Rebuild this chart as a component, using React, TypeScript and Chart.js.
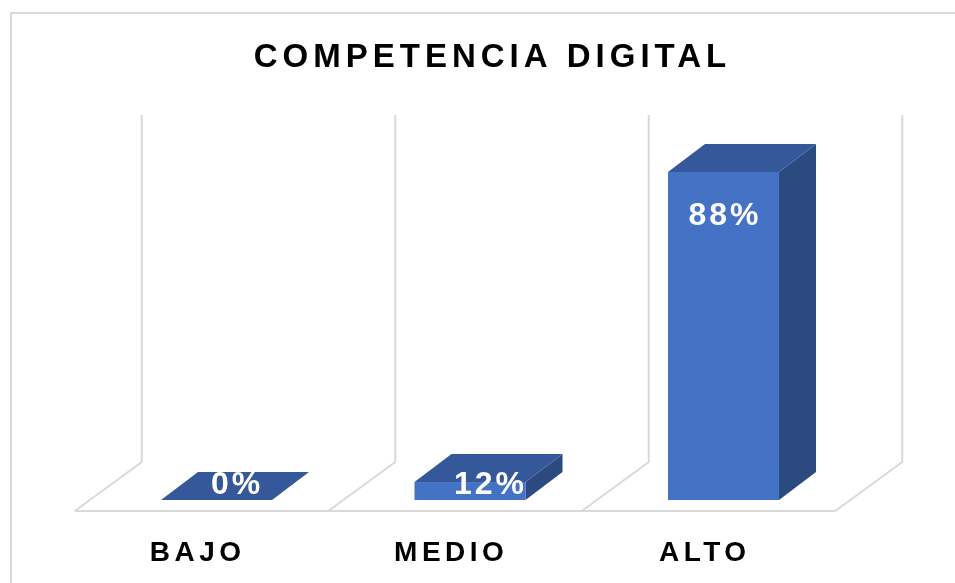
import React, { useEffect, useRef } from "react";
import { Chart, registerables } from "chart.js";

Chart.register(...registerables);

const chartTitle = "COMPETENCIA DIGITAL";
const categories = ["BAJO", "MEDIO", "ALTO"];
const values = [0, 12, 88];
const valueLabels = ["0%", "12%", "88%"];

const FONT = '"Liberation Sans", Arial, sans-serif';
const FRONT = "#4472C4";
const TOPC = "#34589A";
const SIDE = "#2B4A80";
const GRID = "#d9d9d9";

// 3D projection offsets (pixels)
const BAR_DX = 37;
const BAR_DY = -28;
const WALL_DX = 52;
const WALL_DY = -38;
const FLOOR_DX = -15;
const FLOOR_DY = 11;

function spacedText(ctx: CanvasRenderingContext2D, text: string, cx: number, y: number, spacing: number) {
  ctx.letterSpacing = spacing + "px";
  const w = ctx.measureText(text).width - spacing;
  ctx.textAlign = "left";
  ctx.fillText(text, cx - w / 2, y);
}

function barGeom(chart: any, bar: any) {
  const { x, y, base, width } = bar.getProps(["x", "y", "base", "width"], true);
  const b = Math.min(base, chart.chartArea.bottom);
  const top = Math.min(y, b);
  return { x, top, base: b, width };
}

const threeD = {
  id: "threeD",
  beforeDatasetsDraw(chart: any) {
    const { ctx, chartArea } = chart;
    const xs = chart.scales.x;
    const n = categories.length;
    const cw = (xs.right - xs.left) / n;
    ctx.save();
    // outer border
    ctx.strokeStyle = GRID;
    ctx.lineWidth = 2;
    ctx.beginPath();
    ctx.moveTo(11, chart.height + 5);
    ctx.lineTo(11, 13);
    ctx.lineTo(chart.width + 5, 13);
    ctx.stroke();
    // wall + floor
    ctx.lineWidth = 2;
    ctx.lineJoin = "miter";
    for (let i = 0; i <= n; i++) {
      const bx = xs.left + i * cw;
      ctx.beginPath();
      ctx.moveTo(bx + WALL_DX, chartArea.top + WALL_DY);
      ctx.lineTo(bx + WALL_DX, chartArea.bottom + WALL_DY);
      ctx.lineTo(bx + FLOOR_DX, chartArea.bottom + FLOOR_DY);
      ctx.stroke();
    }
    ctx.beginPath();
    ctx.moveTo(xs.left + FLOOR_DX, chartArea.bottom + FLOOR_DY);
    ctx.lineTo(xs.right + FLOOR_DX, chartArea.bottom + FLOOR_DY);
    ctx.stroke();
    ctx.restore();
  },
  afterDatasetsDraw(chart: any) {
    const { ctx } = chart;
    const meta = chart.getDatasetMeta(0);
    ctx.save();
    meta.data.forEach((bar: any) => {
      const { x, top, base, width } = barGeom(chart, bar);
      const l = x - width / 2;
      const r = x + width / 2;
      if (base - top > 0.5) {
        ctx.fillStyle = SIDE;
        ctx.beginPath();
        ctx.moveTo(r, top);
        ctx.lineTo(r + BAR_DX, top + BAR_DY);
        ctx.lineTo(r + BAR_DX, base + BAR_DY);
        ctx.lineTo(r, base);
        ctx.closePath();
        ctx.fill();
        ctx.fillStyle = FRONT;
        ctx.fillRect(l, top, width, base - top);
      }
      ctx.fillStyle = TOPC;
      ctx.beginPath();
      ctx.moveTo(l, top);
      ctx.lineTo(l + BAR_DX, top + BAR_DY);
      ctx.lineTo(r + BAR_DX, top + BAR_DY);
      ctx.lineTo(r, top);
      ctx.closePath();
      ctx.fill();
    });
    // value labels
    ctx.fillStyle = "#ffffff";
    ctx.font = `bold 32px ${FONT}`;
    ctx.textBaseline = "alphabetic";
    meta.data.forEach((bar: any, i: number) => {
      const { x, top, base } = barGeom(chart, bar);
      if (base - top > 60) {
        spacedText(ctx, valueLabels[i], x, top + 53, 3);
      } else {
        spacedText(ctx, valueLabels[i], x + 19, base - 6, 3);
      }
    });
    ctx.restore();
  },
  afterDraw(chart: any) {
    const { ctx, chartArea } = chart;
    const meta = chart.getDatasetMeta(0);
    ctx.save();
    ctx.fillStyle = "#000000";
    ctx.textBaseline = "alphabetic";
    ctx.font = `bold 33px ${FONT}`;
    spacedText(ctx, chartTitle, 490, 67, 5);
    ctx.font = `bold 28px ${FONT}`;
    meta.data.forEach((bar: any, i: number) => {
      spacedText(ctx, categories[i], bar.x - 21, chartArea.bottom + 61, 4.5);
    });
    ctx.restore();
  },
};

export default function App() {
  const ref = useRef<HTMLCanvasElement | null>(null);
  useEffect(() => {
    document.body.style.margin = "0";
    if (!ref.current) return;
    const chart = new Chart(ref.current, {
      type: "bar",
      data: {
        labels: categories,
        datasets: [
          {
            data: values,
            backgroundColor: "rgba(0,0,0,0)",
            barPercentage: 0.438,
            categoryPercentage: 1,
          },
        ],
      },
      options: {
        responsive: false,
        animation: false,
        layout: { padding: { left: 89.75, right: 104.75, top: 153, bottom: 83 } },
        plugins: { legend: { display: false }, tooltip: { enabled: false }, title: { display: false } },
        scales: {
          x: { display: false },
          y: { display: false, min: 7.6, max: 92.66 },
        },
      },
      plugins: [threeD],
    });
    return () => chart.destroy();
  }, []);
  return (
    <div style={{ width: 955, height: 583, background: "#ffffff" }}>
      <canvas ref={ref} width={955} height={583} style={{ display: "block" }} />
    </div>
  );
}
